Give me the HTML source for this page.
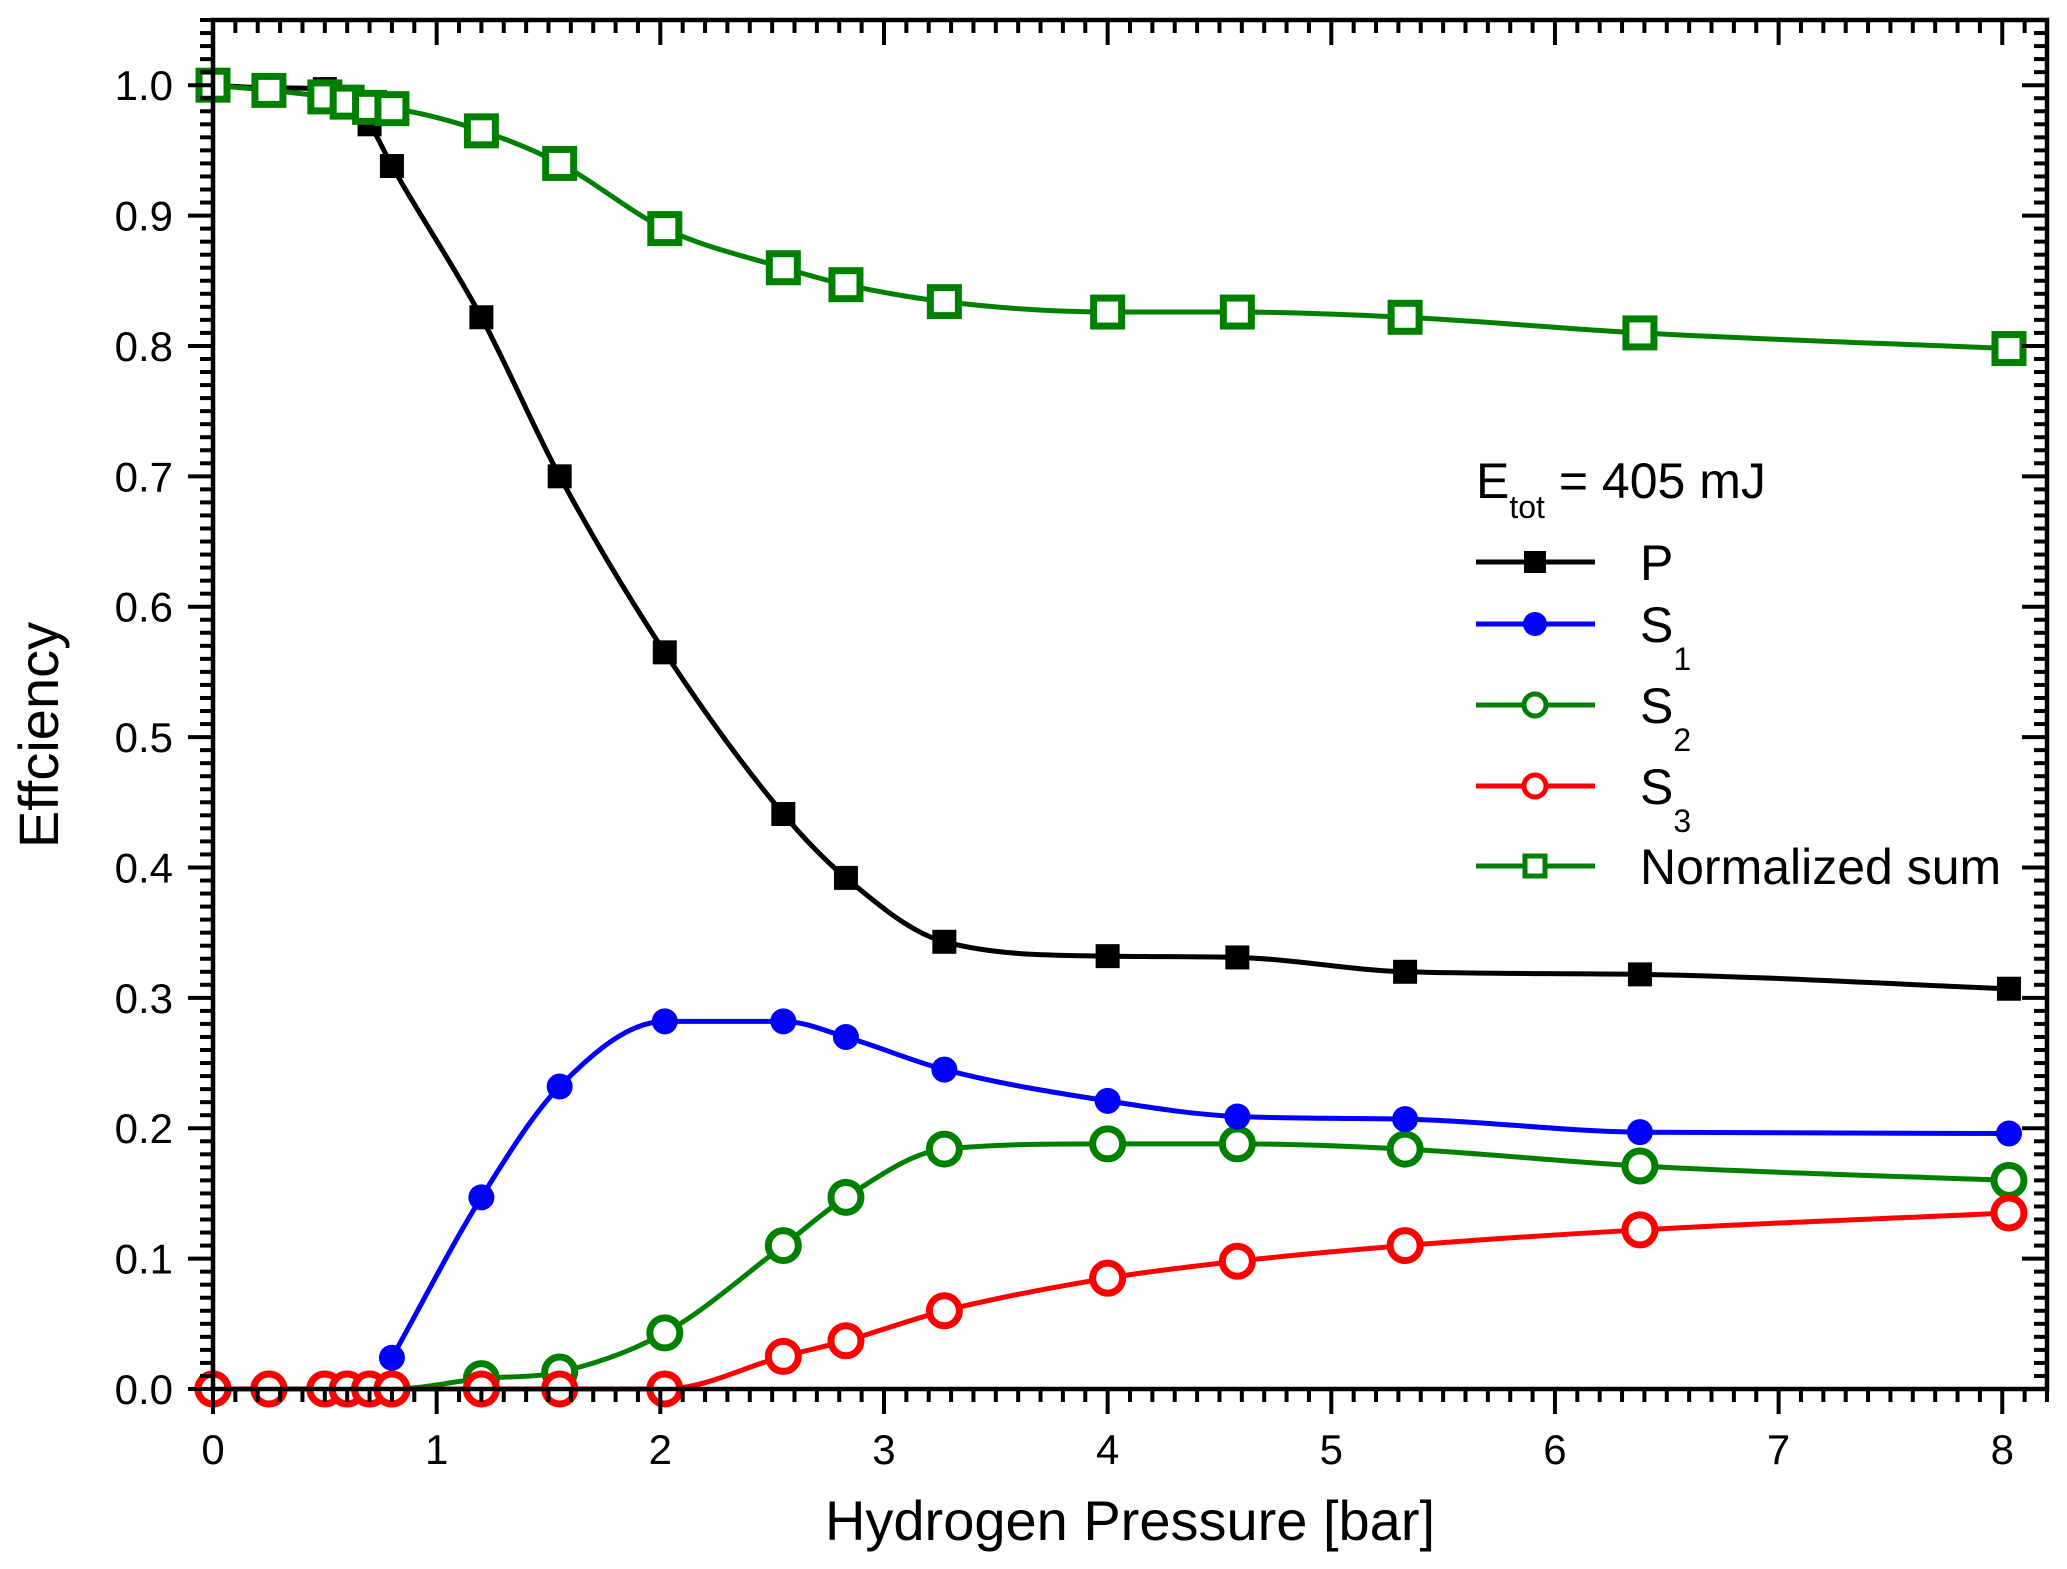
<!DOCTYPE html>
<html><head><meta charset="utf-8"><style>
html,body{margin:0;padding:0;background:#fff;}
svg{display:block;font-family:"Liberation Sans",Arial,sans-serif;}
</style></head><body>
<svg id="chart" width="2067" height="1569" viewBox="0 0 2067 1569" xmlns="http://www.w3.org/2000/svg">
<g id="grid-layer"></g>
<g id="series-layer"></g>
<g id="axis-layer"></g>
<g id="legend">
  <text x="1476" y="498" font-size="50">E<tspan font-size="32" dy="20">tot</tspan><tspan dy="-20"> = 405 mJ</tspan></text>
</g>
<text x="1130" y="1540" font-size="56" text-anchor="middle">Hydrogen Pressure [bar]</text>
<text transform="translate(58,735) rotate(-90)" font-size="56" text-anchor="middle">Effciency</text>
</svg>
<script>
const pressure = [0,0.25,0.5,0.6,0.7,0.8,1.2,1.55,2.02,2.55,2.83,3.27,4.0,4.58,5.33,6.38,8.03];
const pValues = [1.0,0.998,0.997,0.985,0.97,0.938,0.822,0.70,0.565,0.441,0.392,0.343,0.332,0.331,0.32,0.318,0.307];
const normValues = [1.0,0.996,0.991,0.987,0.983,0.982,0.965,0.94,0.89,0.86,0.847,0.834,0.826,0.826,0.822,0.81,0.798];
const s1Pressure = [0.8,1.2,1.55,2.02,2.55,2.83,3.27,4.0,4.58,5.33,6.38,8.03];
const s1Values = [0.024,0.147,0.232,0.282,0.282,0.27,0.245,0.221,0.209,0.207,0.197,0.196];
const s2Values = [0,0,0,0,0,0,0.008,0.013,0.043,0.11,0.147,0.184,0.188,0.188,0.184,0.171,0.16];
const s3Values = [0,0,0,0,0,0,0,0,0,0.025,0.037,0.06,0.085,0.098,0.11,0.122,0.135];
const xTicks = [0,1,2,3,4,5,6,7,8];
const yTicks = [0.0,0.1,0.2,0.3,0.4,0.5,0.6,0.7,0.8,0.9,1.0];

const L=213,R=2047,T=20,B=1389;
const X0=0,X1=8.2,Y0=0,Y1=1.05;
const sx=v=>L+(v-X0)/(X1-X0)*(R-L);
const sy=v=>B-(v-Y0)/(Y1-Y0)*(B-T);
const NS='http://www.w3.org/2000/svg';
function mk(tag,attrs,parent){const e=document.createElementNS(NS,tag);for(const k in attrs)e.setAttribute(k,attrs[k]);parent.appendChild(e);return e;}
const axis=document.getElementById('axis-layer');
const series=document.getElementById('series-layer');

const frame=mk('rect',{x:L,y:T,width:R-L,height:B-T,fill:'none',stroke:'#000','stroke-width':4.5},axis);


for(let i=0;i<=82;i++){
  const v=i/10, x=sx(v), major=(i%10===0);
  const len=major?25:13;
  mk('line',{x1:x,y1:B,x2:x,y2:B+len,stroke:'#000','stroke-width':4},axis);
  mk('line',{x1:x,y1:T,x2:x,y2:T+len,stroke:'#000','stroke-width':4},axis);
}
xTicks.forEach(v=>{
  const t=mk('text',{x:sx(v),y:B+75,'font-size':42,'text-anchor':'middle'},axis);
  t.textContent=String(v);
  
  
});
for(let i=0;i<=105;i++){
  const v=i/100,y=sy(v),major=(i%10===0);
  const len=major?25:13;
  mk('line',{x1:L,y1:y,x2:L-len,y2:y,stroke:'#000','stroke-width':4},axis);
  mk('line',{x1:R,y1:y,x2:R-len,y2:y,stroke:'#000','stroke-width':4},axis);
}
yTicks.forEach(v=>{
  const t=mk('text',{x:L-40,y:sy(v)+15,'font-size':42,'text-anchor':'end'},axis);
  t.textContent=v.toFixed(1);
  
  
});

function smoothPath(xs,ys){
  const p=xs.map((x,i)=>[sx(x),sy(ys[i])]);
  const n=p.length; if(n<2)return '';
  const d=[],m=[];
  for(let i=0;i<n-1;i++)d.push((p[i+1][1]-p[i][1])/(p[i+1][0]-p[i][0]));
  m[0]=d[0];m[n-1]=d[n-2];
  for(let i=1;i<n-1;i++){m[i]=(d[i-1]*d[i]<=0)?0:(d[i-1]+d[i])/2;}
  for(let i=0;i<n-1;i++){if(d[i]===0){m[i]=0;m[i+1]=0;continue;}
    const a=m[i]/d[i],b=m[i+1]/d[i],s=a*a+b*b;if(s>9){const t=3/Math.sqrt(s);m[i]=t*a*d[i];m[i+1]=t*b*d[i];}}
  let s=`M${p[0][0]},${p[0][1]}`;
  for(let i=0;i<n-1;i++){const h=(p[i+1][0]-p[i][0])/3;
    s+=` C${p[i][0]+h},${p[i][1]+m[i]*h} ${p[i+1][0]-h},${p[i+1][1]-m[i+1]*h} ${p[i+1][0]},${p[i+1][1]}`;}
  return s;
}
function drawMarker(g,kind,x,y,color){
  if(kind==='fsq')return mk('rect',{x:x-12,y:y-12,width:24,height:24,fill:color},g);
  if(kind==='fci')return mk('circle',{cx:x,cy:y,r:13,fill:color},g);
  if(kind==='oci')return mk('circle',{cx:x,cy:y,r:15,fill:'#fff',stroke:color,'stroke-width':7},g);
  if(kind==='osq')return mk('rect',{x:x-14,y:y-14,width:28,height:28,fill:'#fff',stroke:color,'stroke-width':7},g);
}
function drawSeries(name,xs,ys,color,kind){
  const g=mk('g',{},series);
  
  
  const path=mk('path',{d:smoothPath(xs,ys),fill:'none',stroke:color,'stroke-width':5},g);
  
  
  xs.forEach((x,i)=>{
    const mEl=drawMarker(g,kind,sx(x),sy(ys[i]),color);
    
    
  });
}
drawSeries('s2',pressure,s2Values,'#008000','oci');
drawSeries('s1',s1Pressure,s1Values,'#0000ff','fci');
drawSeries('p',pressure,pValues,'#000000','fsq');
drawSeries('normalized-sum',pressure,normValues,'#008000','osq');
drawSeries('s3',pressure,s3Values,'#ff0000','oci');

const leg=document.getElementById('legend');
const entries=[['p','P','','#000','fsq',562],['s1','S','1','#0000ff','fci',624],['s2','S','2','#008000','oci',705],['s3','S','3','#ff0000','oci',786],['normalized-sum','Normalized sum','','#008000','osq',866]];
entries.forEach(e=>{
  const g=mk('g',{},leg);
  
  
  mk('line',{x1:1476,y1:e[5],x2:1595,y2:e[5],stroke:e[3],'stroke-width':5},g);
  if(e[4]==='oci')mk('circle',{cx:1535,cy:e[5],r:11,fill:'#fff',stroke:e[3],'stroke-width':5},g);
  else if(e[4]==='osq')mk('rect',{x:1525,y:e[5]-10,width:20,height:20,fill:'#fff',stroke:e[3],'stroke-width':5},g);
  else if(e[4]==='fci')mk('circle',{cx:1535,cy:e[5],r:12,fill:e[3]},g);
  else mk('rect',{x:1524,y:e[5]-11,width:22,height:22,fill:e[3]},g);
  const t=mk('text',{x:1640,y:e[5]+18,'font-size':50},g);
  t.textContent=e[1];
  if(e[2]){const s=mk('tspan',{'font-size':32,dy:28},t);s.textContent=e[2];}
});
</script>
</body></html>
